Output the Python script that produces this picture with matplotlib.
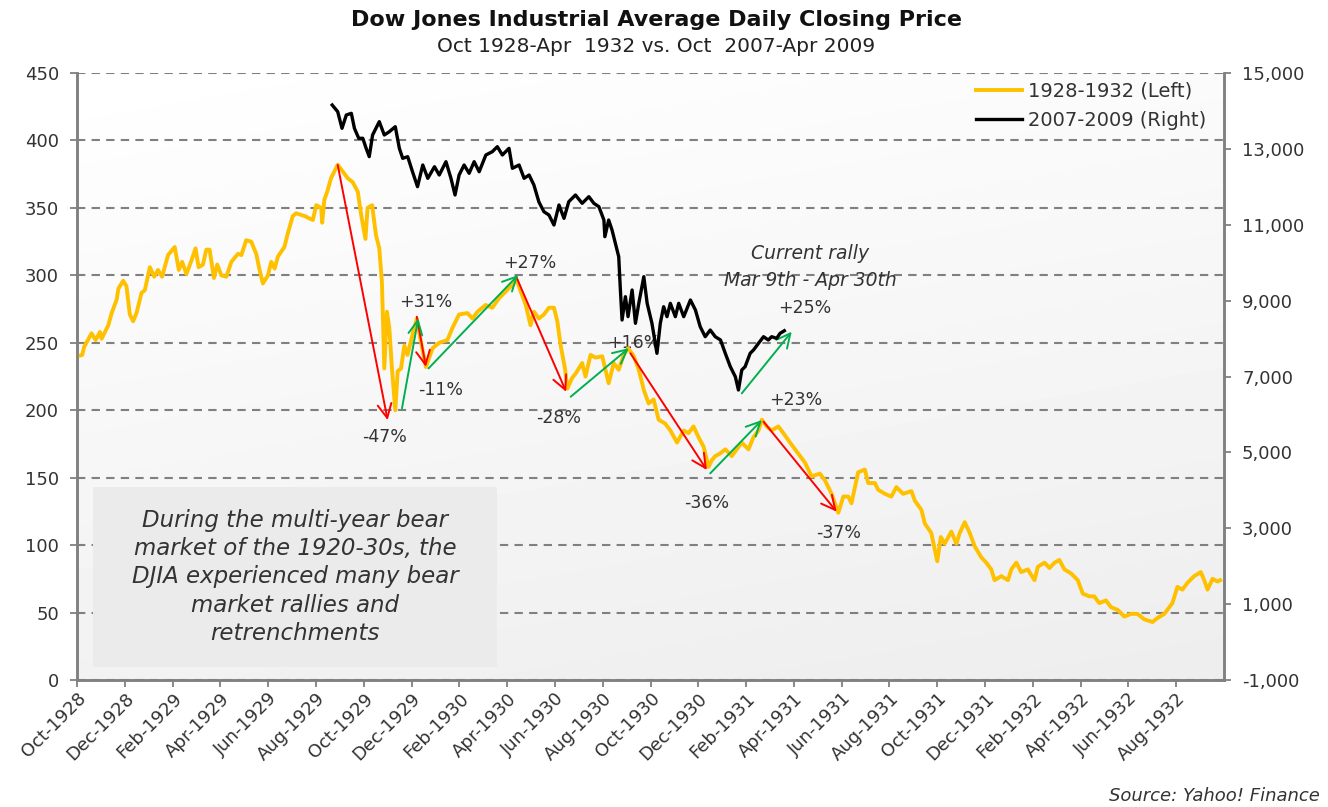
import matplotlib
matplotlib.use("Agg")
import matplotlib.pyplot as plt
import numpy as np
from matplotlib.patches import Rectangle
from matplotlib.ticker import FuncFormatter

plt.rcParams['font.family'] = ['DejaVu Sans']

# x positions are months since 1 Oct 1928
months_1928 = [0.00, 0.22, 0.30, 0.61, 0.78, 0.96, 1.03, 1.31, 1.45, 1.66, 1.73, 1.93, 2.07, 2.21, 2.35, 2.49,
               2.70, 2.84, 3.05, 3.23, 3.39, 3.56, 3.67, 3.81, 4.09, 4.26, 4.40, 4.58, 4.79, 4.96, 5.09, 5.27,
               5.41, 5.55, 5.73, 5.87, 6.04, 6.25, 6.46, 6.74, 6.88, 7.08, 7.29, 7.50, 7.64, 7.78, 7.99, 8.13,
               8.27, 8.41, 8.68, 8.82, 9.03, 9.17, 9.52, 9.87, 10.01, 10.22, 10.26, 10.35, 10.49, 10.63, 10.91,
               11.12, 11.33, 11.54, 11.75, 11.89, 12.07, 12.16, 12.35, 12.51, 12.65, 12.76, 12.86, 12.97, 13.07,
               13.18, 13.32, 13.42, 13.56, 13.70, 13.83, 14.04, 14.22, 14.39, 14.60, 14.88, 15.16, 15.50, 15.71,
               15.99, 16.34, 16.55, 16.76, 17.10, 17.38, 17.66, 17.94, 18.22, 18.39, 18.57, 18.78, 18.98, 19.12,
               19.33, 19.54, 19.75, 19.96, 20.10, 20.24, 20.42, 20.52, 20.72, 20.86, 21.14, 21.28, 21.49, 21.70,
               21.98, 22.25, 22.46, 22.67, 22.88, 23.06, 23.30, 23.51, 23.72, 23.92, 24.13, 24.34, 24.62, 24.83,
               25.11, 25.39, 25.59, 25.80, 26.01, 26.22, 26.43, 26.57, 26.71, 26.92, 27.13, 27.40, 27.61, 27.82,
               28.10, 28.31, 28.52, 28.66, 28.86, 29.07, 29.35, 29.56, 29.84, 30.05, 30.47, 30.74, 31.09, 31.30,
               31.58, 31.86, 32.07, 32.28, 32.41, 32.69, 32.97, 33.11, 33.39, 33.53, 33.81, 34.08, 34.29, 34.57,
               34.92, 35.06, 35.34, 35.48, 35.75, 36.00, 36.15, 36.31, 36.59, 36.80, 36.94, 37.15, 37.36, 37.57,
               37.84, 38.05, 38.26, 38.40, 38.68, 38.96, 39.10, 39.31, 39.51, 39.79, 40.07, 40.21, 40.49, 40.70,
               40.91, 41.11, 41.32, 41.60, 41.88, 42.09, 42.37, 42.57, 42.78, 43.06, 43.27, 43.55, 43.83, 44.10,
               44.38, 44.66, 45.01, 45.22, 45.50, 45.84, 46.05, 46.26, 46.47, 46.75, 47.03, 47.17, 47.31, 47.52,
               47.73, 47.84]
djia_1928 = [240, 241, 247, 257, 252, 258, 253, 263, 272, 282, 290, 296, 292, 271, 266, 272,
             287, 289, 306, 299, 304, 299, 306, 315, 321, 304, 310, 301, 311, 320, 306, 308,
             319, 319, 298, 308, 300, 299, 310, 316, 315, 326, 325, 316, 304, 294, 300, 310,
             305, 314, 321, 331, 344, 346, 344, 341, 352, 350, 339, 356, 363, 372, 382,
             377, 372, 369, 362, 345, 327, 350, 352, 330, 320, 295, 231, 273, 261,
             231, 200, 229, 231, 248, 241, 256, 268, 251, 232, 246, 250, 252, 261,
             271, 272, 268, 273, 278, 276, 283, 288, 293, 297, 288, 278, 263, 273,
             268, 271, 276, 276, 266, 248, 231, 216, 224, 227, 235, 225, 241, 239,
             240, 220, 235, 230, 241, 246, 240, 230, 215, 205, 208, 193, 190, 185,
             176, 185, 183, 188, 180, 173, 158, 163, 166, 168, 171, 166, 171, 176,
             171, 180, 185, 193, 188, 185, 188, 183, 176, 171, 161, 151, 153, 148,
             138, 124, 136, 136, 131, 154, 156, 146, 146, 141, 138, 136, 143, 138,
             140, 133, 126, 116, 109, 88, 106, 101, 110, 101, 109, 117, 109, 99,
             91, 87, 82, 74, 77, 74, 82, 87, 80, 82, 74, 84, 87, 83,
             87, 89, 82, 79, 74, 64, 62, 62, 57, 59, 54, 52, 47, 49,
             49, 45, 43, 46, 49, 57, 69, 67, 72, 77, 80, 74, 67, 75,
             73, 74]

months_2007 = [10.68, 10.91, 11.09, 11.27, 11.48, 11.61, 11.79, 11.96, 12.10, 12.23, 12.37, 12.65, 12.86,
               13.07, 13.32, 13.49, 13.63, 13.84, 14.04, 14.25, 14.47, 14.68, 14.96, 15.16, 15.44, 15.65,
               15.82, 15.99, 16.20, 16.41, 16.62, 16.83, 17.11, 17.38, 17.59, 17.80, 18.08, 18.22, 18.50,
               18.71, 18.92, 19.12, 19.33, 19.54, 19.75, 19.96, 20.17, 20.38, 20.58, 20.86, 21.14, 21.42,
               21.63, 21.84, 22.05, 22.09, 22.25, 22.39, 22.53, 22.67, 22.74, 22.81, 22.95, 23.06, 23.23,
               23.37, 23.51, 23.72, 23.86, 24.06, 24.27, 24.41, 24.55, 24.69, 24.83, 25.04, 25.18, 25.39,
               25.67, 25.88, 26.08, 26.29, 26.50, 26.71, 26.93, 27.13, 27.34, 27.55, 27.68, 27.82, 27.96,
               28.17, 28.31, 28.52, 28.73, 28.93, 29.07, 29.28, 29.42, 29.60]
djia_2007 = [14156, 13980, 13542, 13893, 13937, 13542, 13279, 13279, 13015, 12795, 13366, 13717, 13366,
             13453, 13585, 13015, 12751, 12794, 12398, 12003, 12575, 12224, 12530, 12311, 12662, 12224,
             11784, 12311, 12575, 12356, 12662, 12398, 12839, 12926, 13058, 12839, 13015, 12488, 12575,
             12224, 12311, 12048, 11600, 11344, 11257, 10993, 11521, 11169, 11608, 11784, 11565, 11740,
             11565, 11476, 11125, 10685, 11125, 10861, 10510, 10158, 9280, 8489, 9104, 8577, 9280,
             8402, 8929, 9631, 8929, 8402, 7611, 8402, 8840, 8577, 8929, 8577, 8929, 8577,
             9016, 8753, 8313, 8049, 8225, 8049, 7962, 7611, 7259, 6994, 6644, 7171, 7259,
             7611, 7698, 7875, 8049, 7962, 8049, 8005, 8137, 8206]

tick_months = list(range(0, 48, 2))
tick_labels = ['Oct-1928', 'Dec-1928', 'Feb-1929', 'Apr-1929', 'Jun-1929', 'Aug-1929',
               'Oct-1929', 'Dec-1929', 'Feb-1930', 'Apr-1930', 'Jun-1930', 'Aug-1930',
               'Oct-1930', 'Dec-1930', 'Feb-1931', 'Apr-1931', 'Jun-1931', 'Aug-1931',
               'Oct-1931', 'Dec-1931', 'Feb-1932', 'Apr-1932', 'Jun-1932', 'Aug-1932']

# bear market moves (left axis units): start, end, label and label spot
move_x0 = [10.91, 14.22, 18.38, 23.16, 28.73, 13.60, 14.71, 20.66, 26.50, 27.82]
move_y0 = [381.8, 269.3, 299.0, 242.2, 191.5, 201.4, 231.0, 210.0, 153.2, 212.5]
move_x1 = [13.00, 14.60, 20.47, 26.36, 31.79, 14.28, 18.46, 23.09, 28.66, 29.91]
move_y1 = [192.7, 232.2, 213.7, 155.7, 124.8, 268.1, 300.2, 246.0, 192.7, 258.2]
move_labels = ['-47%', '-11%', '-28%', '-36%', '-37%', '+31%', '+27%', '+16%', '+23%', '+25%']
label_x = [12.86, 15.20, 20.17, 26.35, 31.86, 14.61, 18.96, 23.30, 30.06, 30.44]
label_y = [180.1, 215.0, 194.2, 131.2, 109.0, 280.2, 309.0, 249.8, 207.6, 275.8]
move_colors = ['#FF0000'] * 5 + ['#00B050'] * 5

fig = plt.figure(figsize=(13.28, 8.07), dpi=100)
ax = fig.add_axes([77 / 1328, 1 - 680 / 807, 1147 / 1328, 607 / 807])
ax2 = ax.twinx()

# soft grey gradient behind the plot, white top-left to grey bottom-right
gy, gx = np.mgrid[0:1:200j, 0:1:200j]
grad = 1 - 0.07 * (0.75 * gy + 0.25 * gx)
ax.imshow(grad, extent=(0, 48, 0, 450), origin='upper', aspect='auto', cmap='gray',
          vmin=0, vmax=1, zorder=0, interpolation='bilinear')

line1, = ax.plot(months_1928, djia_1928, color='#FFC000', lw=2.8, zorder=3, label='1928-1932 (Left)')
line2, = ax2.plot(months_2007, djia_2007, color='black', lw=2.4, zorder=3, label='2007-2009 (Right)')

ax.set_xlim(0, 48)
ax.set_ylim(0, 450)
ax2.set_ylim(-1000, 15000)
ax.set_yticks(range(0, 451, 50))
ax2.set_yticks(range(-1000, 15001, 2000))
ax2.yaxis.set_major_formatter(FuncFormatter(lambda v, p: f'{int(v):,}'))
ax.set_xticks(tick_months)
ax.set_xticklabels(tick_labels, rotation=45, ha='right', rotation_mode='anchor')

ax.yaxis.grid(True, linestyle=(0, (4, 3)), color='#808080', lw=1.5)
ax.set_axisbelow(True)

for a in (ax, ax2):
    for s in a.spines.values():
        s.set_color('#808080')
        s.set_linewidth(1.8)
    a.spines['top'].set_visible(False)
    a.tick_params(colors='#808080', labelcolor='#333333', labelsize=13, length=5, width=1.3)
ax.tick_params(axis='x', labelsize=13, pad=2)
ax.tick_params(axis='y', pad=8)
ax2.tick_params(axis='y', pad=8)

# rally / retrenchment arrows
for i in range(len(move_labels)):
    ax.annotate('', xy=(move_x1[i], move_y1[i]), xytext=(move_x0[i], move_y0[i]),
                arrowprops=dict(arrowstyle='->,head_length=0.5,head_width=0.25', color=move_colors[i],
                                lw=1.4, shrinkA=0, shrinkB=0, mutation_scale=20), zorder=4)
    ax.text(label_x[i], label_y[i], move_labels[i], ha='center', va='center', fontsize=12.5,
            color='#333333', zorder=2)

ax.text(30.69, 316.5, 'Current rally', ha='center', va='center', fontsize=13.5,
        style='italic', color='#333333')
ax.text(30.69, 296.5, 'Mar 9th - Apr 30th', ha='center', va='center', fontsize=13.5,
        style='italic', color='#333333')

# note box
ax.add_patch(Rectangle((0.014, 0.021), 0.352, 0.297, transform=ax.transAxes,
                       facecolor='#ebebeb', edgecolor='none', zorder=2))
ax.text(0.19, 0.17, 'During the multi-year bear\nmarket of the 1920-30s, the\nDJIA experienced many bear\n'
        'market rallies and\nretrenchments', transform=ax.transAxes, ha='center', va='center',
        fontsize=16.5, style='italic', color='#333333', linespacing=1.3, zorder=3)

ax2.legend(handles=[line1, line2], loc='upper right', bbox_to_anchor=(1.0, 1.015),
           frameon=False, fontsize=14, handlelength=2.4, handletextpad=0.3, labelspacing=0.55,
           labelcolor='#333333')

fig.text(0.494, 1 - 20 / 807, 'Dow Jones Industrial Average Daily Closing Price', ha='center',
         va='center', fontsize=16, fontweight='bold', color='#111111')
fig.text(0.494, 1 - 47 / 807, 'Oct 1928-Apr  1932 vs. Oct  2007-Apr 2009', ha='center',
         va='center', fontsize=14.5, color='#222222')
fig.text(1320 / 1328, 1 - 796 / 807, 'Source: Yahoo! Finance', ha='right', va='center',
         fontsize=13, style='italic', color='#333333')

fig.savefig('out.png', dpi=100, facecolor='white')
